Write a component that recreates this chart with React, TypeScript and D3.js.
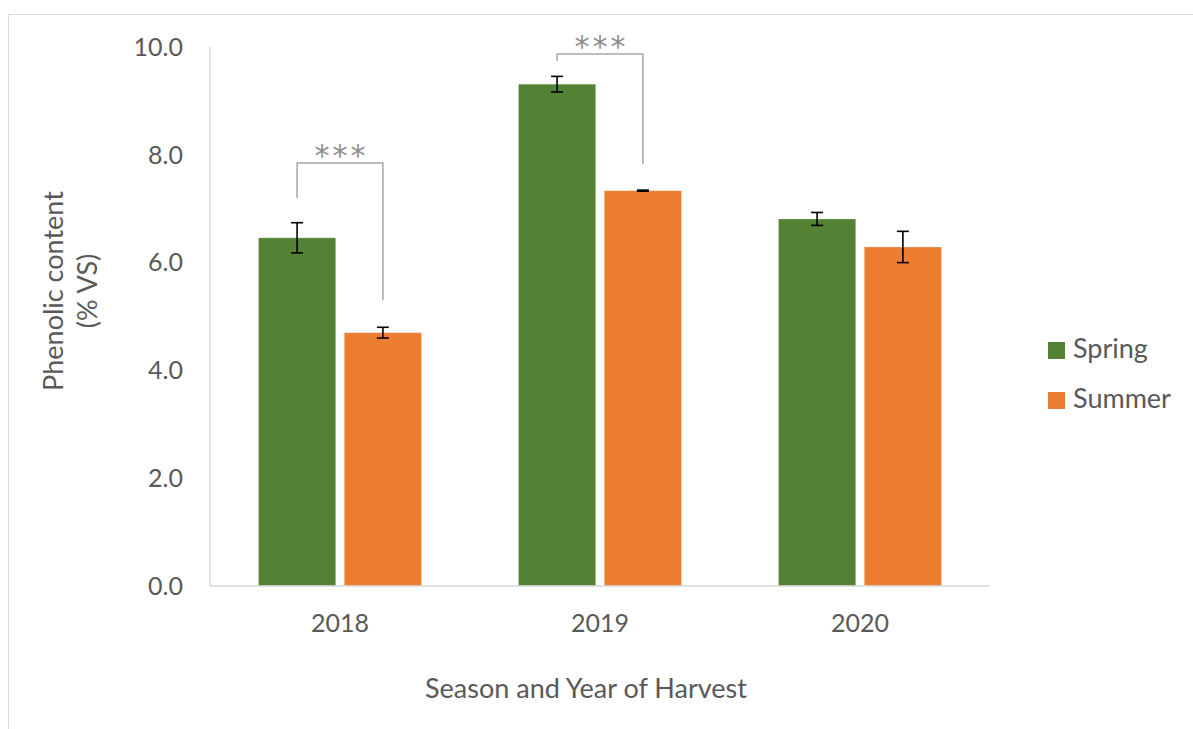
import React from "react";
import * as d3 from "d3";

// Phenolic content by season and year of harvest
const years = ["2018", "2019", "2020"];
const seasons = ["Spring", "Summer"];
const springValues = [6.46, 9.31, 6.81];
const springErrors = [0.28, 0.145, 0.12];
const summerValues = [4.7, 7.335, 6.29];
const summerErrors = [0.1, 0.01, 0.29];
const yTicks = [0, 2, 4, 6, 8, 10];

// significance brackets: year, top of bracket, lower ends of the left/right legs
const bracketYears = ["2018", "2019"];
const bracketTops = [7.85, 9.87];
const bracketLeftEnds = [7.2, 9.74];
const bracketRightEnds = [5.3, 7.83];
const bracketLabels = ["***", "***"];

const colors: Record<string, string> = { Spring: "#548235", Summer: "#ED7D31" };
const FONT = "Lato, 'Open Sans', sans-serif";
const TEXT = "#595959";

export default function App() {
  const W = 1193;
  const H = 729;
  const left = 210;
  const right = 990;
  const top = 47;
  const bottom = 586;

  const x = d3.scaleBand<string>().domain(years).range([left, right]).padding(0);
  const y = d3.scaleLinear().domain([0, 10]).range([bottom, top]);
  const groupW = x.bandwidth() * 0.627;
  const inner = d3
    .scaleBand<string>()
    .domain(seasons)
    .range([-groupW / 2, groupW / 2])
    .paddingInner(0.1)
    .paddingOuter(0);

  const series = [
    { name: "Spring", values: springValues, errors: springErrors },
    { name: "Summer", values: summerValues, errors: summerErrors },
  ];

  const center = (yr: string) => (x(yr) as number) + x.bandwidth() / 2;
  const barCenter = (yr: string, s: string) =>
    center(yr) + (inner(s) as number) + inner.bandwidth() / 2;

  const capW = 12;

  return (
    <svg
      width={W}
      height={H}
      style={{ position: "absolute", left: 0, top: 0, background: "#fff" }}
      fontFamily={FONT}
    >
      {/* chart area frame */}
      <rect x={8.5} y={14.5} width={1400} height={1000} fill="none" stroke="#d9d9d9" strokeWidth={1} />

      {/* bars */}
      {series.map((s) =>
        years.map((yr, i) => (
          <rect
            key={s.name + yr}
            x={center(yr) + (inner(s.name) as number)}
            y={y(s.values[i])}
            width={inner.bandwidth()}
            height={bottom - y(s.values[i])}
            fill={colors[s.name]}
            stroke="#ffffff"
            strokeOpacity={0.25}
            strokeWidth={1}
          />
        ))
      )}

      {/* axes */}
      <line x1={left} x2={left} y1={top} y2={bottom} stroke="#d9d9d9" strokeWidth={1.5} />
      <line x1={left} x2={right} y1={bottom} y2={bottom} stroke="#d9d9d9" strokeWidth={1.5} />

      {/* error bars */}
      {series.map((s) =>
        years.map((yr, i) => {
          const cx = barCenter(yr, s.name);
          const hi = y(s.values[i] + s.errors[i]);
          const lo = y(s.values[i] - s.errors[i]);
          return (
            <g key={"e" + s.name + yr} stroke="#000" strokeWidth={1.6}>
              <line x1={cx} x2={cx} y1={hi} y2={lo} />
              <line x1={cx - capW / 2} x2={cx + capW / 2} y1={hi} y2={hi} />
              <line x1={cx - capW / 2} x2={cx + capW / 2} y1={lo} y2={lo} />
            </g>
          );
        })
      )}

      {/* significance brackets */}
      {bracketYears.map((yr, i) => {
        const xl = barCenter(yr, "Spring");
        const xr = barCenter(yr, "Summer");
        const yt = y(bracketTops[i]);
        return (
          <g key={"b" + yr}>
            <path
              d={`M${xl},${y(bracketLeftEnds[i])}V${yt}H${xr}V${y(bracketRightEnds[i])}`}
              fill="none"
              stroke="#a6a6a6"
              strokeWidth={1.5}
            />
            <text
              x={(xl + xr) / 2 + 1.5}
              y={yt + 3}
              textAnchor="middle"
              fontSize={30}
              fontFamily="'DejaVu Sans', sans-serif"
              letterSpacing={3}
              fill="#8f8f8f"
            >
              {bracketLabels[i]}
            </text>
          </g>
        );
      })}

      {/* y tick labels */}
      {yTicks.map((t) => (
        <text
          key={"yt" + t}
          x={183}
          y={y(t)}
          dy="0.35em"
          textAnchor="end"
          fontSize={25}
          fill={TEXT}
        >
          {d3.format(".1f")(t)}
        </text>
      ))}

      {/* x tick labels */}
      {years.map((yr) => (
        <text key={"xt" + yr} x={center(yr)} y={632} textAnchor="middle" fontSize={25} fill={TEXT}>
          {yr}
        </text>
      ))}

      {/* axis titles */}
      <text x={586} y={698} textAnchor="middle" fontSize={27} fill={TEXT}>
        Season and Year of Harvest
      </text>
      <text transform="translate(63,291) rotate(-90)" textAnchor="middle" fontSize={27} fill={TEXT}>
        Phenolic content
      </text>
      <text transform="translate(97,291) rotate(-90)" textAnchor="middle" fontSize={27} fill={TEXT}>
        (% VS)
      </text>

      {/* legend */}
      {seasons.map((s, i) => (
        <g key={"lg" + s} transform={`translate(1048,${342 + i * 50})`}>
          <rect width={17} height={17} fill={colors[s]} />
          <text x={25} y={16} fontSize={27} fill={TEXT}>
            {s}
          </text>
        </g>
      ))}
    </svg>
  );
}
